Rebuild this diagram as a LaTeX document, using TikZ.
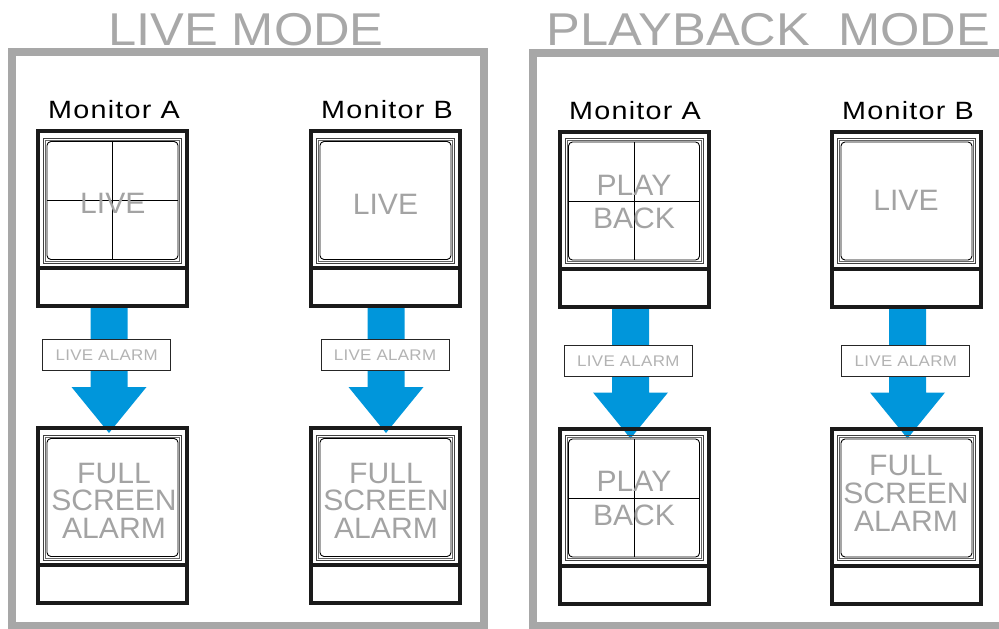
\documentclass[tikz,border=0pt]{standalone}
\usepackage{fontspec}
\usetikzlibrary{calc,backgrounds}
\newfontfamily\titlefont[FakeStretch=1.1]{Liberation Sans}
\newfontfamily\labfont[FakeStretch=1.15,LetterSpace=5]{Liberation Sans}
\newfontfamily\alfont[FakeStretch=1.1,LetterSpace=2]{Liberation Sans}
\newfontfamily\scrfont[FakeStretch=1.02]{Liberation Sans}
\definecolor{framegray}{HTML}{A7A7A7}
\definecolor{titlegray}{HTML}{A8A8A8}
\definecolor{scrgray}{HTML}{A3A3A3}
\definecolor{algray}{HTML}{B3B3B3}
\definecolor{arrowblue}{HTML}{0096DB}
\definecolor{monblack}{HTML}{1A1A1A}
\tikzset{
  panel/.style={draw=framegray, line width=8pt},
  monframe/.style={draw=monblack, line width=4pt, minimum width=149pt, minimum height=175pt, inner sep=0pt, outer sep=0pt},
  monline/.style={draw=monblack, line width=4pt},
  thinA/.style={draw=black!75, line width=0.8pt},
  thinB/.style={draw=black!60, line width=0.5pt},
  thinC/.style={draw=black, line width=0.9pt, rounded corners=4pt},
  quad/.style={draw=black, line width=1pt},
  titletext/.style={anchor=base, text=titlegray, inner sep=0pt, font=\titlefont\fontsize{46pt}{50pt}\selectfont},
  montext/.style={anchor=base, text=black, inner sep=0pt, font=\labfont\fontsize{25pt}{30pt}\selectfont},
  scrtext/.style={anchor=base, text=scrgray, inner sep=0pt, font=\scrfont\fontsize{29.5pt}{32pt}\selectfont},
  alarm/.style={draw=black!85, line width=0.8pt, fill=white, minimum width=128pt, minimum height=31.4pt, inner sep=0pt, text=algray, font=\alfont\fontsize{15.4pt}{18pt}\selectfont},
}
\newcommand{\drawmonitor}[4]{%
  \node[monframe] (#1) at (#2,#3+89.5) {};
  \draw[monline] (#2-74.5,#3+139) -- (#2+74.5,#3+139);
  \draw[thinA] (#2-69,#3+9) rectangle (#2+69,#3+134);
  \draw[thinB] (#2-67,#3+11) rectangle (#2+67,#3+132);
  \draw[thinC] (#2-65.5,#3+12.5) rectangle (#2+65.5,#3+130.5);
  \ifnum#4=1
    \draw[quad] (#2,#3+12.5) -- (#2,#3+130.5) (#2-65.5,#3+71.5) -- (#2+65.5,#3+71.5);
  \fi}
\newcommand{\alarmarrow}[4]{%
  \fill[arrowblue] let \p1=($(#1.south)+(#3,0)$), \p2=($(#2.north)+(#3,#4)$) in
    (\x1-18.5pt,\y1) -- (\x1+18.5pt,\y1) -- (\x1+18.5pt,\y2+46pt) -- (\x1+37.5pt,\y2+46pt)
    -- (\x2,\y2) -- (\x1-37.5pt,\y2+46pt) -- (\x1-18.5pt,\y2+46pt) -- cycle;}
\begin{document}
\begin{tikzpicture}[x=1pt,y=-1pt]
\useasboundingbox (0,0) rectangle (999,629);
% titles
\node[titletext] (tlive) at (246,45) {LIVE MODE};
\node[titletext] (tplay) at (768.5,45) {PLAYBACK\ \ MODE};
% monitors
\drawmonitor{lA}{112.5}{129}{1}
\drawmonitor{lB}{385.5}{129}{0}
\drawmonitor{lA2}{112.5}{426}{0}
\drawmonitor{lB2}{385.5}{426}{0}
\drawmonitor{pA}{634}{129.5}{1}
\drawmonitor{pB}{906.5}{129.5}{0}
\drawmonitor{pA2}{634}{426.5}{1}
\drawmonitor{pB2}{906.5}{426.5}{0}
% panels and arrows behind
\begin{scope}[on background layer]
  \draw[panel] (12,52) rectangle (484,626);
  \draw[panel] (533,53) rectangle (1010,626);
  \alarmarrow{lA}{lA2}{-3.5}{5}
  \alarmarrow{lB}{lB2}{0.5}{5}
  \alarmarrow{pA}{pA2}{-3.5}{10}
  \alarmarrow{pB}{pB2}{1}{10}
\end{scope}
% alarm labels
\node[alarm] (al1) at (106.7,355) {LIVE ALARM};
\node[alarm] (al2) at (385,355) {LIVE ALARM};
\node[alarm] (al3) at (628.3,361) {LIVE ALARM};
\node[alarm] (al4) at (905.8,361) {LIVE ALARM};
% monitor labels
\node[montext] (mlA) at (114,118) {Monitor A};
\node[montext] (mlB) at (387,118) {Monitor B};
\node[montext] (mpA) at (635,119.5) {Monitor A};
\node[montext] (mpB) at (908,119.5) {Monitor B};
% screen texts
\node[scrtext] (s1) at (112.8,213) {LIVE};
\node[scrtext] (s2) at (385.5,214) {LIVE};
\node[scrtext] (s3a) at (114,483.3) {FULL};
\node[scrtext] (s3b) at (114,510.7) {SCREEN};
\node[scrtext] (s3c) at (114,538) {ALARM};
\node[scrtext] (s4a) at (386,483.3) {FULL};
\node[scrtext] (s4b) at (386,510.7) {SCREEN};
\node[scrtext] (s4c) at (386,538) {ALARM};
\node[scrtext] (s5a) at (634,195) {PLAY};
\node[scrtext] (s5b) at (634,228.3) {BACK};
\node[scrtext] (s6) at (906,210) {LIVE};
\node[scrtext] (s7a) at (634,491.5) {PLAY};
\node[scrtext] (s7b) at (634,525) {BACK};
\node[scrtext] (s8a) at (906,475) {FULL};
\node[scrtext] (s8b) at (906,503.3) {SCREEN};
\node[scrtext] (s8c) at (906,531.7) {ALARM};
\end{tikzpicture}
\end{document}
